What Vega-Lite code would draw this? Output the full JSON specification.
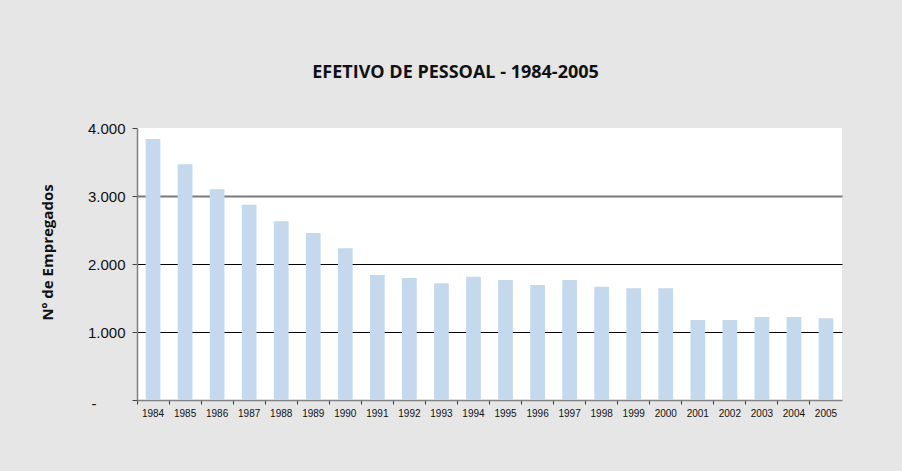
{
  "$schema": "https://vega.github.io/schema/vega-lite/v6.json",
  "width": 705,
  "height": 272,
  "autosize": {"type": "none"},
  "padding": {"left": 137, "top": 128, "right": 60, "bottom": 71},
  "background": "#e6e6e6",
  "title": {
    "text": "EFETIVO DE PESSOAL - 1984-2005",
    "font": "Open Sans",
    "fontSize": 18,
    "fontWeight": "bold",
    "color": "#111111",
    "frame": "group",
    "anchor": "middle",
    "baseline": "alphabetic",
    "offset": 25,
    "dx": -34
  },
  "config": {"view": {"fill": "white", "stroke": null}},
  "data": {
    "values": [
      {"ano": "1984", "efetivo": 3840},
      {"ano": "1985", "efetivo": 3466},
      {"ano": "1986", "efetivo": 3098},
      {"ano": "1987", "efetivo": 2872},
      {"ano": "1988", "efetivo": 2627},
      {"ano": "1989", "efetivo": 2456},
      {"ano": "1990", "efetivo": 2232},
      {"ano": "1991", "efetivo": 1838},
      {"ano": "1992", "efetivo": 1794},
      {"ano": "1993", "efetivo": 1716},
      {"ano": "1994", "efetivo": 1814},
      {"ano": "1995", "efetivo": 1765},
      {"ano": "1996", "efetivo": 1691},
      {"ano": "1997", "efetivo": 1765},
      {"ano": "1998", "efetivo": 1667},
      {"ano": "1999", "efetivo": 1642},
      {"ano": "2000", "efetivo": 1642},
      {"ano": "2001", "efetivo": 1176},
      {"ano": "2002", "efetivo": 1176},
      {"ano": "2003", "efetivo": 1221},
      {"ano": "2004", "efetivo": 1221},
      {"ano": "2005", "efetivo": 1201}
    ]
  },
  "mark": {"type": "bar", "color": "#c5d9ed", "width": {"band": 0.46}},
  "encoding": {
    "x": {
      "field": "ano",
      "type": "ordinal",
      "scale": {"paddingInner": 0, "paddingOuter": 0},
      "axis": {
        "title": null,
        "labelAngle": 0,
        "bandPosition": 0,
        "grid": false,
        "domainColor": "#808080",
        "domainWidth": 1.5,
        "tickColor": "#333333",
        "tickSize": 4,
        "labelFont": "Liberation Sans",
        "labelFontSize": 10,
        "labelColor": "#111111",
        "labelPadding": 4
      }
    },
    "y": {
      "field": "efetivo",
      "type": "quantitative",
      "scale": {"domain": [0, 4000], "nice": false},
      "axis": {
        "values": [0, 1000, 2000, 3000, 4000],
        "title": "Nº de Empregados",
        "titleFont": "Open Sans",
        "titleFontSize": 15,
        "titleFontWeight": "bold",
        "titleColor": "#111111",
        "titleAngle": -90,
        "titleAlign": "center",
        "titleBaseline": "middle",
        "titleX": -90,
        "titleY": 124,
        "labelExpr": "datum.value == 0 ? '-' : replace(format(datum.value, ','), ',', '.')",
        "labelFont": "Liberation Sans",
        "labelFontSize": 15,
        "labelColor": "#111111",
        "labelPadding": {"condition": {"test": "datum.value == 0", "value": 36}, "value": 7},
        "labelOffset": {"condition": {"test": "datum.value == 0", "value": 3}, "value": 0},
        "tickSize": 5,
        "tickColor": "#444444",
        "domainColor": "#808080",
        "domainWidth": 1.5,
        "grid": true,
        "gridColor": {"condition": {"test": "datum.value == 3000", "value": "#7a7a7a"}, "value": "#000000"},
        "gridWidth": {"condition": {"test": "datum.value == 3000", "value": 2}, "value": 1},
        "gridOpacity": {"condition": {"test": "datum.value == 4000 || datum.value == 0", "value": 0}, "value": 1}
      }
    }
  }
}
